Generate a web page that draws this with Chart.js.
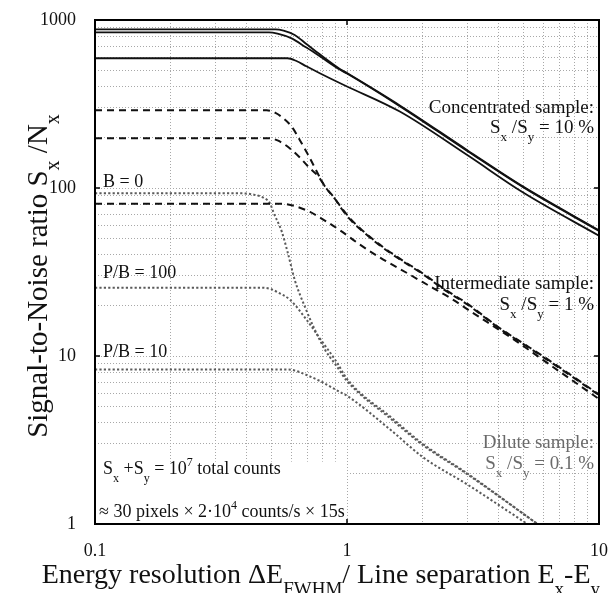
<!DOCTYPE html>
<html>
<head>
<meta charset="utf-8">
<script src="https://cdn.jsdelivr.net/npm/chart.js@4.4.1/dist/chart.umd.min.js"></script>
<style>
  html, body { margin: 0; padding: 0; background: #fff; }
  #wrap { width: 608px; height: 593px; }
</style>
</head>
<body>
<div id="wrap"><canvas id="c" width="608" height="593"></canvas></div>
<script>
// ---- Signal-to-noise ratio vs. energy resolution, three sample concentrations ----

// Concentrated sample (Sx/Sy = 10 %)
const concB0Res    = [0.1, 0.52, 0.56, 0.62, 0.69, 0.78, 0.94, 1.0, 1.62, 3, 5, 10];
const concB0Snr    = [880, 880, 865, 815, 720, 625, 510, 483, 310, 168, 102, 56];
const concPB100Res = [0.1, 0.49, 0.53, 0.6, 0.69, 0.78, 0.94, 1.0, 1.62, 3, 5, 10];
const concPB100Snr = [845, 845, 830, 780, 685, 608, 505, 480, 307, 166, 101, 55.5];
const concPB10Res  = [0.1, 0.58, 0.63, 0.69, 0.78, 0.94, 1.0, 1.62, 3, 5, 10];
const concPB10Snr  = [592, 592, 570, 530, 482, 420, 402, 285, 157, 94, 52];

// Intermediate sample (Sx/Sy = 1 %)
const intB0Res    = [0.1, 0.48, 0.52, 0.559, 0.603, 0.651, 0.702, 0.77, 0.818, 0.882, 0.953, 1.028, 1.126, 1.35, 1.62, 2, 2.41, 3, 4.05, 5, 6.57, 10];
const intB0Snr    = [290, 290, 280, 260, 232, 192, 157, 120, 102, 89, 76, 66, 57.6, 46, 38, 31, 25.3, 20.5, 14.6, 11.9, 9.1, 5.9];
const intPB100Res = [0.1, 0.48, 0.53, 0.594, 0.65, 0.702, 0.77, 0.83, 0.896, 0.953, 1.028, 1.126, 1.35, 1.62, 2, 2.41, 3, 4.05, 5, 6.57, 10];
const intPB100Snr = [198, 198, 192, 172, 152, 134, 117, 99, 86, 75, 65, 57, 45.5, 37.6, 30.7, 25, 20.3, 14.5, 11.8, 9.0, 5.85];
const intPB10Res  = [0.1, 0.55, 0.603, 0.713, 0.79, 0.938, 1.126, 1.393, 1.62, 2, 2.64, 3, 4.57, 6.57, 10];
const intPB10Snr  = [80.5, 80.5, 79, 72, 66, 56, 46, 37.5, 33, 27.5, 21.6, 19, 12.6, 8.6, 5.55];

// Dilute sample (Sx/Sy = 0.1 %)
const dilB0Res    = [0.1, 0.38, 0.43, 0.47, 0.495, 0.51, 0.551, 0.58, 0.622, 0.681, 0.735, 0.818, 0.91, 1.0, 1.5, 2, 3, 5.7];
const dilB0Snr    = [93, 93, 91, 87, 81, 72, 55, 42, 28, 19.6, 15, 10.9, 8.7, 7.1, 4.2, 2.95, 1.98, 1.0];
const dilPB100Res = [0.1, 0.46, 0.5, 0.53, 0.594, 0.692, 0.781, 0.91, 1.0, 1.5, 2, 3, 5.7];
const dilPB100Snr = [25.5, 25.5, 25, 24, 21.6, 16.4, 12.7, 9.2, 7.3, 4.3, 3.0, 2.0, 1.0];
const dilPB10Res  = [0.1, 0.58, 0.62, 0.692, 0.781, 0.938, 1.0, 1.5, 2, 3, 5.2];
const dilPB10Snr  = [8.3, 8.3, 8.2, 7.7, 7.1, 6.1, 5.8, 3.6, 2.5, 1.72, 1.0];

// Axis grid values (every 1..9 x 10^n) and labelled decades
const xGrid = [0.1,0.2,0.3,0.4,0.5,0.6,0.7,0.8,0.9,1,2,3,4,5,6,7,8,9,10];
const yGrid = [1,2,3,4,5,6,7,8,9,10,20,30,40,50,60,70,80,90,100,200,300,400,500,600,700,800,900,1000];
const xLabels = [0.1, 1, 10];
const yLabels = [1, 10, 100, 1000];

const SERIF = '"Liberation Serif", "Times New Roman", serif';
const INK = '#111';
const GREY = '#5a5a5a';

function pts(xs, ys) { return xs.map((x, i) => ({ x: x, y: ys[i] })); }

function series(xs, ys, kind) {
  const base = {
    data: pts(xs, ys),
    pointRadius: 0,
    fill: false,
    cubicInterpolationMode: 'monotone',
    borderCapStyle: 'butt'
  };
  if (kind === 'solid') return Object.assign(base, { borderColor: INK, borderWidth: 1.8, borderDash: [] });
  if (kind === 'dash')  return Object.assign(base, { borderColor: INK, borderWidth: 2, borderDash: [7, 5] });
  return Object.assign(base, { borderColor: GREY, borderWidth: 2, borderDash: [2.2, 2.2] });
}

// Draws a run of text pieces; kind 1 = subscript, 2 = superscript
function drawRich(ctx, parts, x, y, align, size, color) {
  const small = Math.round(size * 0.68);
  const widths = parts.map(p => {
    ctx.font = (p[1] ? small : size) + 'px ' + SERIF;
    return ctx.measureText(p[0]).width;
  });
  const total = widths.reduce((a, b) => a + b, 0);
  let cx = align === 'right' ? x - total : (align === 'center' ? x - total / 2 : x);
  ctx.fillStyle = color || INK;
  ctx.textAlign = 'left';
  ctx.textBaseline = 'alphabetic';
  parts.forEach((p, i) => {
    ctx.font = (p[1] ? small : size) + 'px ' + SERIF;
    const dy = p[1] === 1 ? size * 0.42 : (p[1] === 2 ? -size * 0.42 : 0);
    ctx.fillText(p[0], cx, y + dy);
    cx += widths[i];
  });
}

const decorations = {
  id: 'decorations',
  beforeDatasetsDraw(chart) {
    const { ctx } = chart;
    const xs = chart.scales.x, ys = chart.scales.y;
    // white panel behind the count-rate notes
    ctx.save();
    ctx.fillStyle = '#fff';
    const left = chart.chartArea.left;
    const right = xs.getPixelForValue(0.985);
    const top = ys.getPixelForValue(2.35);
    ctx.fillRect(left, top, right - left, chart.chartArea.bottom - top);
    ctx.restore();
  },
  afterDraw(chart) {
    const { ctx, chartArea: a } = chart;
    const xs = chart.scales.x, ys = chart.scales.y;
    ctx.save();
    // frame
    ctx.strokeStyle = '#000';
    ctx.lineWidth = 2;
    ctx.setLineDash([]);
    ctx.strokeRect(a.left, a.top, a.right - a.left, a.bottom - a.top);
    // inward decade ticks
    ctx.lineWidth = 1.5;
    ctx.beginPath();
    [1].forEach(v => {
      const px = xs.getPixelForValue(v);
      ctx.moveTo(px, a.top); ctx.lineTo(px, a.top + 5);
      ctx.moveTo(px, a.bottom); ctx.lineTo(px, a.bottom - 5);
    });
    [10, 100].forEach(v => {
      const py = ys.getPixelForValue(v);
      ctx.moveTo(a.left, py); ctx.lineTo(a.left + 5, py);
      ctx.moveTo(a.right, py); ctx.lineTo(a.right - 5, py);
    });
    ctx.stroke();

    // curve annotations
    const R = a.right - 5;
    drawRich(ctx, [['Concentrated sample:', 0]], R, 113, 'right', 19);
    drawRich(ctx, [['S', 0], ['x', 1], [' /S', 0], ['y', 1], [' = 10 %', 0]], R, 133, 'right', 19);
    drawRich(ctx, [['Intermediate sample:', 0]], R, 289, 'right', 19);
    drawRich(ctx, [['S', 0], ['x', 1], [' /S', 0], ['y', 1], [' = 1 %', 0]], R, 310, 'right', 19);
    drawRich(ctx, [['Dilute sample:', 0]], R, 448, 'right', 19, '#6a6a6a');
    drawRich(ctx, [['S', 0], ['x', 1], [' /S', 0], ['y', 1], [' = 0.1 %', 0]], R, 469, 'right', 19, '#6a6a6a');

    const L = a.left + 8;
    drawRich(ctx, [['B = 0', 0]], L, 187, 'left', 18);
    drawRich(ctx, [['P/B = 100', 0]], L, 278, 'left', 18);
    drawRich(ctx, [['P/B = 10', 0]], L, 357, 'left', 18);

    drawRich(ctx, [['S', 0], ['x', 1], [' +S', 0], ['y', 1], [' = 10', 0], ['7', 2], [' total counts', 0]], L, 474, 'left', 18);
    drawRich(ctx, [['\u2248 30 pixels \u00d7 2\u00b710', 0], ['4', 2], [' counts/s \u00d7 15s', 0]], a.left + 4, 517, 'left', 18);

    // axis titles
    drawRich(ctx, [['Energy resolution \u0394E', 0], ['FWHM', 1], ['/ Line separation E', 0], ['x', 1], ['-E', 0], ['y', 1]],
      600, 583, 'right', 28);
    ctx.save();
    ctx.translate(47, 276);
    ctx.rotate(-Math.PI / 2);
    drawRich(ctx, [['Signal-to-Noise ratio S', 0], ['x', 1], [' /N', 0], ['x', 1]], 0, 0, 'center', 29);
    ctx.restore();
    ctx.restore();
  }
};

const gridStyle = { color: '#a8a8a8', lineWidth: 1, drawTicks: false };

new Chart(document.getElementById('c'), {
  type: 'line',
  data: {
    datasets: [
      series(concB0Res, concB0Snr, 'solid'),
      series(concPB100Res, concPB100Snr, 'solid'),
      series(concPB10Res, concPB10Snr, 'solid'),
      series(intB0Res, intB0Snr, 'dash'),
      series(intPB100Res, intPB100Snr, 'dash'),
      series(intPB10Res, intPB10Snr, 'dash'),
      series(dilB0Res, dilB0Snr, 'dot'),
      series(dilPB100Res, dilPB100Snr, 'dot'),
      series(dilPB10Res, dilPB10Snr, 'dot')
    ]
  },
  options: {
    responsive: false,
    animation: false,
    devicePixelRatio: 1,
    layout: { padding: { top: 20, right: 9, left: 0, bottom: 0 } },
    plugins: { legend: { display: false }, tooltip: { enabled: false } },
    scales: {
      x: {
        type: 'logarithmic',
        min: 0.1, max: 10,
        afterBuildTicks: s => { s.ticks = xGrid.map(v => ({ value: v })); },
        afterFit: s => { s.height = 69; s.paddingLeft = 0; s.paddingRight = 0; },
        grid: gridStyle,
        border: { display: false, dash: [1, 2] },
        ticks: {
          autoSkip: false, maxRotation: 0, padding: 16,
          color: '#111', font: { family: SERIF, size: 18 },
          callback: v => xLabels.includes(v) ? String(v) : ''
        }
      },
      y: {
        type: 'logarithmic',
        min: 1, max: 1000,
        afterBuildTicks: s => { s.ticks = yGrid.map(v => ({ value: v })); },
        afterFit: s => { s.width = 95; s.paddingTop = 0; s.paddingBottom = 0; },
        grid: gridStyle,
        border: { display: false, dash: [1, 2] },
        ticks: {
          autoSkip: false, padding: 19,
          color: '#111', font: { family: SERIF, size: 18 },
          callback: v => yLabels.includes(v) ? String(v) : ''
        }
      }
    }
  },
  plugins: [decorations]
});
</script>
</body>
</html>
